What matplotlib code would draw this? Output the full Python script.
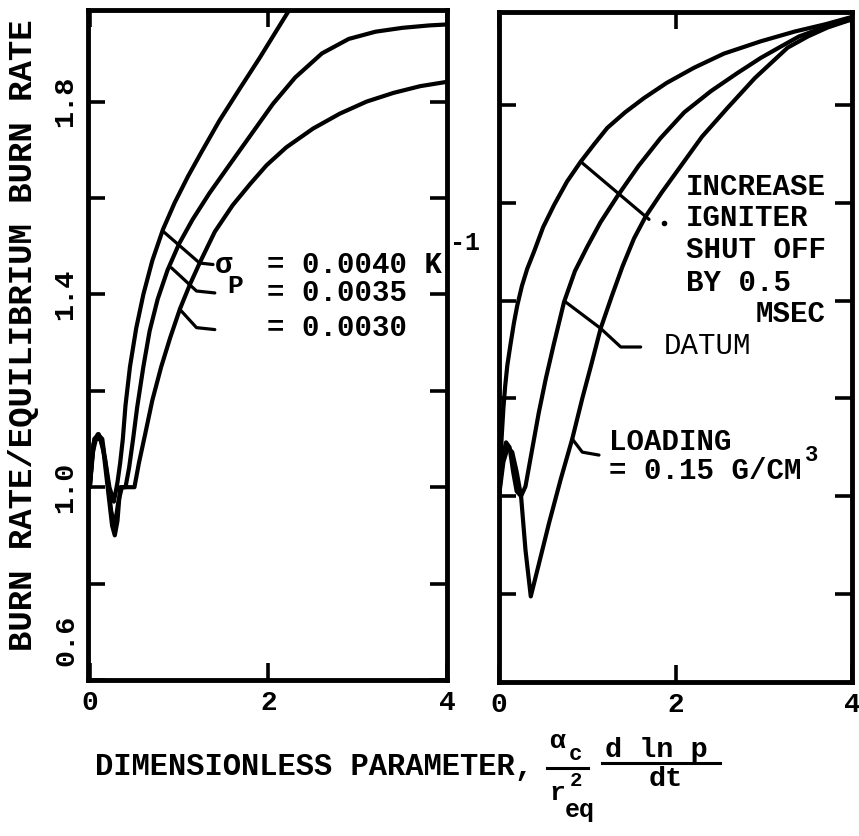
import numpy as np
import matplotlib.pyplot as plt
from matplotlib.lines import Line2D

# typewriter look of the old report
plt.rcParams['font.family'] = ['Liberation Mono', 'DejaVu Sans Mono']
plt.rcParams['font.weight'] = 'bold'

# ---------------------------------------------------------------
# left panel: effect of sigma_p
# ---------------------------------------------------------------
x_s040 = [0, 0.03, 0.07, 0.12, 0.17, 0.22, 0.27, 0.31, 0.34, 0.37, 0.40, 0.45,
          0.52, 0.60, 0.70, 0.82, 0.95, 1.10, 1.25, 1.45, 1.68, 1.90, 2.10, 2.30]
y_s040 = [1.00, 1.07, 1.10, 1.10, 1.06, 1.00, 0.97, 1.01, 1.05, 1.10, 1.17, 1.25,
          1.33, 1.40, 1.47, 1.535, 1.59, 1.645, 1.695, 1.76, 1.827, 1.89, 1.95, 2.01]

x_s035 = [0, 0.04, 0.09, 0.14, 0.19, 0.24, 0.28, 0.32, 0.36, 0.40, 0.44, 0.485,
          0.53, 0.60, 0.67, 0.76, 0.87, 1.00, 1.15, 1.34, 1.55, 1.80, 2.05, 2.30,
          2.60, 2.90, 3.20, 3.50, 3.80, 4.00]
y_s035 = [1.00, 1.09, 1.11, 1.10, 1.03, 0.95, 0.92, 0.97, 1.00, 1.00, 1.04, 1.10,
          1.165, 1.25, 1.324, 1.39, 1.45, 1.505, 1.555, 1.61, 1.665, 1.73, 1.795, 1.85,
          1.90, 1.93, 1.945, 1.953, 1.958, 1.96]

x_s030 = [0, 0.05, 0.10, 0.15, 0.20, 0.25, 0.28, 0.31, 0.34, 0.42, 0.50, 0.55,
          0.62, 0.70, 0.80, 0.90, 1.01, 1.12, 1.23, 1.40, 1.60, 1.80, 1.98, 2.20,
          2.50, 2.80, 3.10, 3.40, 3.70, 4.00]
y_s030 = [1.00, 1.10, 1.11, 1.08, 1.00, 0.92, 0.90, 0.93, 1.00, 1.00, 1.00, 1.05,
          1.11, 1.18, 1.25, 1.31, 1.37, 1.42, 1.465, 1.53, 1.585, 1.63, 1.668, 1.705,
          1.744, 1.775, 1.80, 1.818, 1.832, 1.841]

sig_values = ['= 0.0040 K', '= 0.0035', '= 0.0030']
sig_y = [1.461, 1.403, 1.331]

# leader lines from curves to the sigma labels
lead_sig_x = [[0.82, 1.23, 1.38], [0.915, 1.195, 1.40], [1.008, 1.195, 1.40]]
lead_sig_y = [[1.531, 1.465, 1.462], [1.455, 1.407, 1.403], [1.369, 1.331, 1.327]]

# ---------------------------------------------------------------
# right panel: igniter shut off / datum / loading
# ---------------------------------------------------------------
x_ign = [0, 0.01, 0.02, 0.03, 0.05, 0.07, 0.094, 0.13, 0.17, 0.207, 0.26, 0.32,
         0.397, 0.50, 0.623, 0.77, 0.926, 1.08, 1.227, 1.43, 1.643, 1.90, 2.21,
         2.55, 2.965, 3.35, 3.70, 4.00]
y_ign = [1.00, 1.05, 1.08, 1.12, 1.18, 1.225, 1.267, 1.31, 1.355, 1.39, 1.43, 1.465,
         1.50, 1.55, 1.595, 1.643, 1.684, 1.72, 1.753, 1.785, 1.814, 1.845, 1.876,
         1.905, 1.93, 1.95, 1.965, 1.98]

x_dat = [0, 0.04, 0.08, 0.12, 0.16, 0.20, 0.25, 0.30, 0.35, 0.397, 0.45, 0.53,
         0.62, 0.737, 0.86, 1.00, 1.15, 1.34, 1.58, 1.83, 2.10, 2.40, 2.70, 2.965,
         3.20, 3.40, 3.70, 4.00]
y_dat = [1.00, 1.08, 1.11, 1.10, 1.05, 1.01, 1.00, 1.02, 1.07, 1.117, 1.17, 1.24,
         1.31, 1.397, 1.46, 1.51, 1.56, 1.613, 1.675, 1.732, 1.785, 1.828, 1.865,
         1.896, 1.92, 1.94, 1.96, 1.975]

x_load = [0, 0.05, 0.10, 0.15, 0.20, 0.25, 0.30, 0.36, 0.45, 0.567, 0.70, 0.83,
          0.944, 1.04, 1.152, 1.28, 1.40, 1.53, 1.662, 1.84, 2.02, 2.30, 2.59, 2.90,
          3.27, 3.50, 3.72, 4.00]
y_load = [1.00, 1.07, 1.10, 1.09, 1.05, 1.00, 0.89, 0.795, 0.86, 0.945, 1.035, 1.117,
          1.20, 1.265, 1.343, 1.41, 1.47, 1.527, 1.572, 1.62, 1.665, 1.735, 1.794,
          1.855, 1.917, 1.94, 1.958, 1.975]

ign_lines = ['INCREASE', 'IGNITER', 'SHUT OFF', 'BY 0.5', 'MSEC']
ign_x = [2.115, 2.115, 2.115, 2.115, 2.91]
ign_y = [1.633, 1.568, 1.503, 1.435, 1.373]

lead_ign_x = [0.926, 1.70]
lead_ign_y = [1.684, 1.566]
lead_dat_x = [0.755, 1.152, 1.38, 1.605]
lead_dat_y = [1.397, 1.343, 1.305, 1.305]
lead_load_x = [0.83, 0.944, 1.133]
lead_load_y = [1.117, 1.09, 1.084]

y_ticks = [0.6, 0.8, 1.0, 1.2, 1.4, 1.6, 1.8]
y_ticklabels = ['', '', '1.0', '', '1.4', '', '1.8']
x_ticks = [0, 2, 4]

W, H = 859, 836
fig = plt.figure(figsize=(W / 100, H / 100), dpi=100)

axL = fig.add_axes([88 / W, (H - 680) / H, 359 / W, 670 / H])
axR = fig.add_axes([499 / W, (H - 682) / H, 353 / W, 670 / H])

LW = 3.0
for x, y in [(x_s040, y_s040), (x_s035, y_s035), (x_s030, y_s030)]:
    axL.plot(x, y, color='k', lw=LW, solid_joinstyle='round', solid_capstyle='round')
for x, y in [(x_ign, y_ign), (x_dat, y_dat), (x_load, y_load)]:
    axR.plot(x, y, color='k', lw=LW, solid_joinstyle='round', solid_capstyle='round')

for lx, ly in zip(lead_sig_x, lead_sig_y):
    axL.plot(lx, ly, color='k', lw=2.3, solid_capstyle='round')
for lx, ly in [(lead_ign_x, lead_ign_y), (lead_dat_x, lead_dat_y), (lead_load_x, lead_load_y)]:
    axR.plot(lx, ly, color='k', lw=2.3, solid_capstyle='round')
axR.plot([1.87], [1.558], 'o', color='k', ms=3)

# sigma_p labels
axL.text(1.40, 1.461, 'σ', fontsize=21, va='center', ha='left')
axL.text(1.54, 1.418, 'P', fontsize=19, va='center', ha='left')
for s, yy in zip(sig_values, sig_y):
    axL.text(1.98, yy, s, fontsize=21, va='center', ha='left', clip_on=False)
axL.text(4.03, 1.506, '-1', fontsize=18, va='center', ha='left', clip_on=False)

# right panel labels
for s, xx, yy in zip(ign_lines, ign_x, ign_y):
    axR.text(xx, yy, s, fontsize=21, va='center', ha='left')
axR.text(1.87, 1.308, 'DATUM', fontsize=21, va='center', ha='left', fontweight='normal')
axR.text(1.246, 1.110, 'LOADING', fontsize=21, va='center', ha='left')
axR.text(1.246, 1.052, '= 0.15 G/CM', fontsize=21, va='center', ha='left')
axR.text(3.47, 1.083, '3', fontsize=16, va='center', ha='left')

for ax in (axL, axR):
    ax.set_xticks(x_ticks)
    ax.set_xticklabels([str(t) for t in x_ticks])
    ax.set_yticks(y_ticks)
    ax.tick_params(direction='in', length=12, width=2.6, top=True, right=True,
                   labelsize=20, pad=7)
    for sp in ax.spines.values():
        sp.set_linewidth(3.5)

axL.set_xlim(-0.02, 4.0)
axL.set_ylim(0.6, 1.99)
axL.set_yticklabels(y_ticklabels, rotation=90, va='center', fontsize=20.5)

axR.set_xlim(0, 4.0)
axR.set_ylim(0.62, 1.99)
axR.tick_params(labelleft=False)

# bottom y label sits above the corner in the original
fig.text(66 / W, (H - 640) / H, '0.6', rotation=90, fontsize=20.5,
         ha='center', va='center')

# axis titles
fig.text(24 / W, (H - 335) / H, 'BURN RATE/EQUILIBRIUM BURN RATE', rotation=90,
         fontsize=24.5, ha='center', va='center')
fig.text(95 / W, (H - 767) / H, 'DIMENSIONLESS PARAMETER,', fontsize=22,
         ha='left', va='center')

fig.text(549 / W, (H - 741) / H, 'α', fontsize=19, ha='left', va='center')
fig.text(569 / W, (H - 754) / H, 'c', fontsize=16, ha='left', va='center')
fig.add_artist(Line2D([547 / W, 588 / W], [(H - 768) / H] * 2, color='k', lw=2.2))
fig.text(549 / W, (H - 793) / H, 'r', fontsize=19, ha='left', va='center')
fig.text(570 / W, (H - 781) / H, '2', fontsize=15, ha='left', va='center')
fig.text(565 / W, (H - 810) / H, 'eq', fontsize=18, ha='left', va='center')

fig.text(605 / W, (H - 750) / H, 'd ln p', fontsize=20.5, ha='left', va='center')
fig.add_artist(Line2D([602 / W, 720 / W], [(H - 763) / H] * 2, color='k', lw=2.2))
fig.text(666 / W, (H - 779) / H, 'dt', fontsize=20.5, ha='center', va='center')

fig.savefig('out.png', dpi=100, facecolor='white')
